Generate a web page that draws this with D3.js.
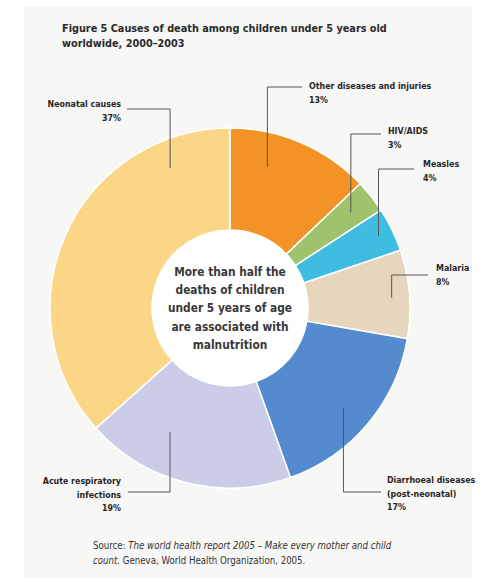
<!DOCTYPE html>
<html>
<head>
<meta charset="utf-8">
<script src="https://cdn.jsdelivr.net/npm/d3@7"></script>
<style>
  html, body { margin: 0; padding: 0; background: #ffffff; }
  svg { display: block; }
  .cond { font-family: "Liberation Sans Narrow", "DejaVu Sans Condensed", "Roboto Condensed", "Arial Narrow", sans-serif; font-stretch: condensed; }
</style>
</head>
<body>
<svg id="chart" width="500" height="578"></svg>
<script>
// Causes of death among children under 5, worldwide 2000–2003 (per cent)
const causes = ["Other diseases and injuries", "HIV/AIDS", "Measles", "Malaria",
                "Diarrhoeal diseases (post-neonatal)", "Acute respiratory infections", "Neonatal causes"];
const shares = [13, 3, 4, 8, 17, 19, 37];
const labelLines = [
  ["Other diseases and injuries"],
  ["HIV/AIDS"],
  ["Measles"],
  ["Malaria"],
  ["Diarrhoeal diseases", "(post-neonatal)"],
  ["Acute respiratory", "infections"],
  ["Neonatal causes"]
];
const sliceColors = ["#f39325", "#9fc36d", "#3fbde0", "#e7d6be", "#548ace", "#cacce8", "#fbd686"];

const titleLines = ["Figure 5 Causes of death among children under 5 years old",
                    "worldwide, 2000\u20132003"];
const centreLines = ["More than half the", "deaths of children", "under 5 years of age",
                     "are associated with", "malnutrition"];

// Leader layout: t = position inside slice (0..1), r = radius where leader starts,
// ly = elbow y, lx = end of horizontal leg, tx/ty = text anchor
const leaders = [
  { t: 0.32, r: 146, ly: 87,  lx: 302, tx: 309, ty: 89,  anchor: "start" },
  { t: 0.50, r: 154, ly: 134, lx: 381, tx: 388, ty: 134, anchor: "start" },
  { t: 0.50, r: 165, ly: 169, lx: 414, tx: 423, ty: 167, anchor: "start" },
  { t: 0.53, r: 162, ly: 275, lx: 428, tx: 436, ty: 271, anchor: "start" },
  { t: 0.52, r: 151, ly: 492, lx: 381, tx: 387, ty: 483, anchor: "start" },
  { t: 0.67, r: 138, ly: 492, lx: 128, tx: 121, ty: 484, anchor: "end" },
  { t: 0.824, r: 152, ly: 109, lx: 127, tx: 121, ty: 107, anchor: "end" }
];

const svg = d3.select("#chart");

// panel background
svg.append("rect").attr("x", 24).attr("y", 7).attr("width", 448).attr("height", 571)
  .attr("fill", "#f7f7f6");

// title
svg.append("g").selectAll("text").data(titleLines).join("text")
  .attr("class", "cond")
  .attr("x", 62).attr("y", (d, i) => 32 + i * 14.5)
  .attr("font-size", 10.8).attr("font-weight", "bold").attr("fill", "#2a2a2a")
  .text(d => d);

const cx = 230, cy = 308, rOuter = 180, rInner = 78;
const g = svg.append("g").attr("transform", `translate(${cx},${cy})`);

const pie = d3.pie().value(d => d).sort(null);
const arcs = pie(shares);
const arc = d3.arc().innerRadius(rInner).outerRadius(rOuter);

g.selectAll("path.slice").data(arcs).join("path")
  .attr("class", "slice")
  .attr("d", arc)
  .attr("fill", (d, i) => sliceColors[i])
  .attr("stroke", "#ffffff").attr("stroke-width", 1.5);

// centre hole
g.append("circle").attr("r", rInner).attr("fill", "#ffffff");

// centre message
g.append("g").selectAll("text").data(centreLines).join("text")
  .attr("class", "cond")
  .attr("x", 0).attr("y", (d, i) => -32 + i * 18.2)
  .attr("text-anchor", "middle")
  .attr("font-size", 11.8).attr("font-weight", "bold").attr("fill", "#383838")
  .text(d => d);

// leaders and labels
arcs.forEach((a, i) => {
  const L = leaders[i];
  const ang = a.startAngle + L.t * (a.endAngle - a.startAngle);
  const px = cx + L.r * Math.sin(ang);
  const py = cy - L.r * Math.cos(ang);
  svg.append("path")
    .attr("d", d3.line()([[px, py], [px, L.ly], [L.lx, L.ly]]))
    .attr("fill", "none").attr("stroke", "#555555").attr("stroke-width", 1);

  const lines = labelLines[i].concat([shares[i] + "%"]);
  svg.append("g").selectAll("text").data(lines).join("text")
    .attr("class", "cond")
    .attr("x", L.tx).attr("y", (d, k) => L.ty + k * 13.5)
    .attr("text-anchor", L.anchor)
    .attr("font-size", 8.8).attr("font-weight", "bold").attr("fill", "#262626")
    .text(d => d);
});

// source note
const src = svg.append("g").attr("class", "cond").attr("font-size", 9.6).attr("fill", "#333333");
const s1 = src.append("text").attr("x", 93).attr("y", 549);
s1.append("tspan").text("Source: ");
s1.append("tspan").attr("font-style", "italic")
  .text("The world health report 2005 \u2013 Make every mother and child");
const s2 = src.append("text").attr("x", 93).attr("y", 564);
s2.append("tspan").attr("font-style", "italic").text("count.");
s2.append("tspan").text(" Geneva, World Health Organization, 2005.");
</script>
</body>
</html>
